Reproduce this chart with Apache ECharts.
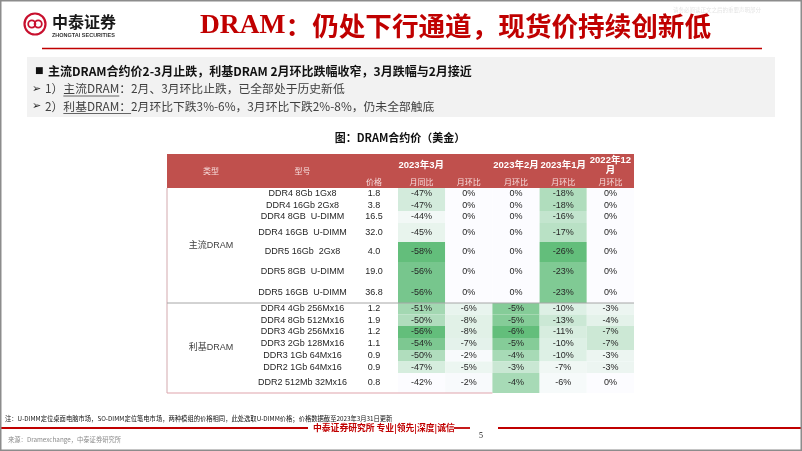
<!DOCTYPE html>
<html>
<head>
<meta charset="utf-8">
<title>DRAM合约价（美金）</title>
<script src="https://cdn.jsdelivr.net/npm/echarts@6/dist/echarts.min.js"></script>
<style>
html, body { margin: 0; padding: 0; background: #fff; }
#main { width: 802px; height: 451px; }
</style>
</head>
<body>
<div id="main"></div>
<script>
// 表格数据
var types = ['主流DRAM', '利基DRAM'];
var typeRows = [7, 7];
var models = ['DDR4 8Gb 1Gx8', 'DDR4 16Gb 2Gx8', 'DDR4 8GB  U-DIMM', 'DDR4 16GB  U-DIMM', 'DDR5 16Gb  2Gx8', 'DDR5 8GB  U-DIMM', 'DDR5 16GB  U-DIMM',
  'DDR4 4Gb 256Mx16', 'DDR4 8Gb 512Mx16', 'DDR3 4Gb 256Mx16', 'DDR3 2Gb 128Mx16', 'DDR3 1Gb 64Mx16', 'DDR2 1Gb 64Mx16', 'DDR2 512Mb 32Mx16'];
var prices = [1.8, 3.8, 16.5, 32.0, 4.0, 19.0, 36.8, 1.2, 1.9, 1.2, 1.1, 0.9, 0.9, 0.8];
var marYoY = [-47, -47, -44, -45, -58, -56, -56, -51, -50, -56, -54, -50, -47, -42];
var marMoM = [0, 0, 0, 0, 0, 0, 0, -6, -8, -8, -7, -2, -5, -2];
var febMoM = [0, 0, 0, 0, 0, 0, 0, -5, -5, -6, -5, -4, -3, -4];
var janMoM = [-18, -18, -16, -17, -26, -23, -23, -10, -13, -11, -10, -10, -7, -6];
var decMoM = [0, 0, 0, 0, 0, 0, 0, -3, -4, -7, -7, -3, -3, 0];
var months = ['2023年3月', '2023年2月', '2023年1月', '2022年12\n月'];
var subHeads = ['价格', '月同比', '月环比', '月环比', '月环比', '月环比'];

// 表格版式（列宽、行高，单位像素）
var colW = [88, 95, 48, 47.2, 47.2, 47.2, 47.2, 47.2];
var rowH = [22, 12, 12, 11, 12, 19, 20, 20, 21, 11.5, 11.5, 12, 12, 11.5, 11.5, 20];
var HEAD = 2;
// 色阶范围：每组每列 [浅, 深]（按绝对值）
var shadeRange = [
  [[43, 58], [1, 20], [1, 6], [10, 26], [1, 20]],
  [[44, 56], [1, 40], [1.5, 6], [5, 30], [1, 20]]
];

function edges (a) {
  var e = [0]
  a.forEach(function (v) { e.push(e[e.length - 1] + v) })
  return e
}
var xE = edges(colW)
var yE = edges(rowH)

function shade (v, r) {
  var t = (Math.abs(v) - r[0]) / (r[1] - r[0])
  t = Math.max(0, Math.min(1, t))
  return echarts.color.lerp(t, ['#fcfcff', '#63be7b'])
}

var cells = []
function cell (c0, c1, r0, r1, o) {
  o.x0 = xE[c0]; o.x1 = xE[c1]; o.y0 = yE[r0]; o.y1 = yE[r1]
  cells.push(o)
}

// 表头
cell(0, 8, 0, 2, { kind: 'headBg' })
cell(0, 1, 0, 2, { text: '类型', kind: 'headSub' })
cell(1, 2, 0, 2, { text: '型号', kind: 'headSub' })
cell(2, 5, 0, 1, { text: months[0], kind: 'headMonth' })
months.slice(1).forEach(function (m, i) {
  cell(5 + i, 6 + i, 0, 1, { text: m, kind: 'headMonth' })
})
subHeads.forEach(function (s, i) {
  cell(2 + i, 3 + i, 1, 2, { text: s, kind: 'headSub' })
})

// 类型（合并单元格）
var start = 0
types.forEach(function (t, g) {
  cell(0, 1, HEAD + start, HEAD + start + typeRows[g], { text: t, kind: 'type', group: g })
  start += typeRows[g]
})

// 数据行
var valueCols = [marYoY, marMoM, febMoM, janMoM, decMoM]
models.forEach(function (m, i) {
  var g = i < typeRows[0] ? 0 : 1
  var r = HEAD + i
  cell(1, 2, r, r + 1, { text: m, kind: 'body' })
  cell(2, 3, r, r + 1, { text: prices[i].toFixed(1), kind: 'body' })
  valueCols.forEach(function (arr, k) {
    cell(3 + k, 4 + k, r, r + 1, { text: arr[i] + '%', kind: 'body', fill: shade(arr[i], shadeRange[g][k]) })
  })
})

var FONT = "'Liberation Sans','Noto Sans CJK SC',sans-serif"
var textStyles = {
  headSub: { fill: '#f6dcdc', fontSize: 8, fontFamily: "'Noto Sans CJK SC',sans-serif" },
  headMonth: { fill: '#ffffff', fontSize: 9.5, fontWeight: 'bold', fontFamily: FONT, lineHeight: 10 },
  type: { fill: '#404040', fontSize: 9, fontFamily: FONT },
  body: { fill: '#262626', fontSize: 9, fontFamily: FONT }
}

function renderCell (params, api) {
  var c = cells[params.dataIndex]
  var p0 = api.coord([api.value(0), api.value(1)])
  var p1 = api.coord([api.value(2), api.value(3)])
  var w = p1[0] - p0[0]
  var h = p1[1] - p0[1]
  var kids = []
  if (c.kind === 'headBg') {
    kids.push({ type: 'rect', shape: { x: p0[0], y: p0[1], width: w, height: h }, style: { fill: '#c0504d' } })
  }
  if (c.fill) {
    kids.push({ type: 'rect', shape: { x: p0[0], y: p0[1], width: w, height: h }, style: { fill: c.fill } })
  }
  if (c.text) {
    kids.push({
      type: 'text',
      x: (p0[0] + p1[0]) / 2,
      y: (p0[1] + p1[1]) / 2,
      z2: 5,
      style: Object.assign({
        text: c.text, textAlign: 'center', textVerticalAlign: 'middle', align: 'center', verticalAlign: 'middle'
      }, textStyles[c.kind])
    })
  }
  if (c.kind === 'type') {
    kids.push({ type: 'line', z2: 10, shape: { x1: p0[0], y1: p0[1], x2: p0[0], y2: p1[1] }, style: { stroke: '#d3a9ae', lineWidth: 1 } })
    if (c.group > 0) {
      var xr = api.coord([xE[8], 0])[0]
      kids.push({ type: 'line', z2: 10, shape: { x1: p0[0], y1: p0[1], x2: xr, y2: p0[1] }, style: { stroke: '#a6a6a6', lineWidth: 1 } })
    }
    if (c.group === types.length - 1) {
      var xb = api.coord([xE[5], 0])[0]
      kids.push({ type: 'line', z2: 10, shape: { x1: p0[0], y1: p1[1], x2: xb, y2: p1[1] }, style: { stroke: '#e0a3ab', lineWidth: 1.2 } })
    }
  }
  return { type: 'group', children: kids }
}

// 下划线位置按文字宽度测量
var mctx = document.createElement('canvas').getContext('2d')
function textW (s, font) { mctx.font = font; return mctx.measureText(s).width }
var B_SIZE = 11.8
var B_FONT = B_SIZE + "px 'Noto Sans CJK SC'"
var bx = 45
var u2a = bx + textW('1）', B_FONT)
var u2b = u2a + textW('主流DRAM', B_FONT)
var u3a = bx + textW('2）', B_FONT)
var u3b = u3a + textW('利基DRAM：', B_FONT)

function txt (x, y, text, style) {
  return {
    type: 'text', x: x, y: y, z: 10,
    style: Object.assign({ text: text, textVerticalAlign: 'middle', verticalAlign: 'middle' }, style)
  }
}
function hline (x1, x2, y, color, lw) {
  return { type: 'line', z: 10, shape: { x1: x1, y1: y, x2: x2, y2: y }, style: { stroke: color, lineWidth: lw } }
}

var CJK = "'Noto Sans CJK SC',sans-serif"
var graphics = [
  // 外框
  { type: 'rect', z: 20, shape: { x: 0.75, y: 0.75, width: 800.5, height: 449.5 }, style: { fill: 'none', stroke: '#8c8c8c', lineWidth: 1.5 } },
  // 标志
  { type: 'circle', z: 10, shape: { cx: 35, cy: 24, r: 10.5 }, style: { fill: 'none', stroke: '#c8102e', lineWidth: 2.2 } },
  { type: 'circle', z: 10, shape: { cx: 31.8, cy: 24, r: 3.6 }, style: { fill: 'none', stroke: '#c8102e', lineWidth: 1.8 } },
  { type: 'circle', z: 10, shape: { cx: 38.2, cy: 24, r: 3.6 }, style: { fill: 'none', stroke: '#c8102e', lineWidth: 1.8 } },
  txt(52, 22, '中泰证券', { fill: '#1a1a1a', fontSize: 16, fontWeight: 'bold', fontFamily: CJK }),
  txt(52, 35, 'ZHONGTAI SECURITIES', { fill: '#333', fontSize: 5.5, fontWeight: 'bold', fontFamily: "'Liberation Sans'" }),
  txt(673, 10, '请务必阅读正文之后的重要声明部分', { fill: '#e4e4e4', fontSize: 5.5, fontFamily: CJK }),
  // 标题
  {
    type: 'text', x: 200, y: 26, z: 10,
    style: {
      text: '{a|DRAM}{b|：仍处下行通道，现货价持续创新低}',
      textVerticalAlign: 'middle', verticalAlign: 'middle',
      rich: {
        a: { fill: '#c00000', fontSize: 27.5, fontWeight: 'bold', fontFamily: "'Liberation Serif',serif" },
        b: { fill: '#c00000', fontSize: 26.6, fontWeight: 'bold', fontFamily: CJK }
      }
    }
  },
  hline(42, 762, 48.5, '#c00000', 1.5),
  // 要点框
  { type: 'rect', z: 1, shape: { x: 27, y: 57, width: 748, height: 60 }, style: { fill: '#f2f2f2' } },
  txt(35, 71, '■', { fill: '#111', fontSize: 9, fontFamily: "'DejaVu Sans'" }),
  txt(48, 71, '主流DRAM合约价2-3月止跌，利基DRAM 2月环比跌幅收窄，3月跌幅与2月接近', { fill: '#111', fontSize: 12, fontWeight: 'bold', fontFamily: CJK }),
  txt(32, 89, '➢', { fill: '#222', fontSize: 11, fontFamily: "'DejaVu Sans'" }),
  txt(bx, 89, '1）主流DRAM：2月、3月环比止跌，已全部处于历史新低', { fill: '#404040', fontSize: B_SIZE, fontFamily: CJK }),
  hline(u2a, u2b, 96, '#404040', 0.8),
  txt(32, 106.5, '➢', { fill: '#222', fontSize: 11, fontFamily: "'DejaVu Sans'" }),
  txt(bx, 106.5, '2）利基DRAM：2月环比下跌3%-6%，3月环比下跌2%-8%，仍未全部触底', { fill: '#404040', fontSize: B_SIZE, fontFamily: CJK }),
  hline(u3a, u3b, 113.5, '#404040', 0.8),
  // 图标题
  txt(400, 138, '图：DRAM合约价（美金）', { fill: '#111', fontSize: 11, fontWeight: 'bold', fontFamily: CJK, textAlign: 'center', align: 'center' }),
  // 页脚
  txt(5, 418.5, '注：U-DIMM定位桌面电脑市场，SO-DIMM定位笔电市场，两种模组的价格相同，此处选取U-DIMM价格；价格数据截至2023年3月31日更新', { fill: '#111', fontSize: 6.3, fontFamily: CJK }),
  hline(0, 308, 428, '#c00000', 1.8),
  txt(313, 428, '中泰证券研究所 专业|领先|深度|诚信', { fill: '#c00000', fontSize: 8.8, fontWeight: 'bold', fontFamily: CJK }),
  hline(454, 470, 428, '#c00000', 1.8),
  txt(479, 436, '5', { fill: '#111', fontSize: 8, fontFamily: "'Liberation Serif',serif" }),
  hline(498, 802, 428, '#c00000', 1.8),
  txt(8, 440, '来源：Dramexchange，中泰证券研究所', { fill: '#8c8c8c', fontSize: 6.3, fontFamily: CJK })
]

var chart = echarts.init(document.getElementById('main'), null, { renderer: 'canvas' })
chart.setOption({
  animation: false,
  backgroundColor: '#fff',
  grid: { left: 167, top: 154, width: xE[xE.length - 1], height: yE[yE.length - 1] },
  xAxis: { type: 'value', min: 0, max: xE[xE.length - 1], show: false },
  yAxis: { type: 'value', min: 0, max: yE[yE.length - 1], inverse: true, show: false },
  series: [{
    type: 'custom',
    renderItem: renderCell,
    clip: false,
    encode: { x: [0, 2], y: [1, 3] },
    data: cells.map(function (c) { return [c.x0, c.y0, c.x1, c.y1] })
  }],
  graphic: graphics
})
</script>
</body>
</html>
